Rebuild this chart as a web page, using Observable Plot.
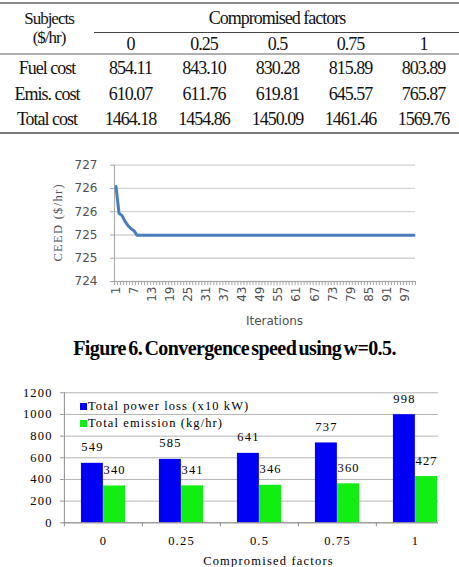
<!DOCTYPE html>
<html>
<head>
<meta charset="utf-8">
<script src="https://cdn.jsdelivr.net/npm/d3@7"></script>
<script src="https://cdn.jsdelivr.net/npm/@observablehq/plot@0.6"></script>
<style>
html, body { margin: 0; padding: 0; background: #fff; }
#page { position: relative; width: 459px; height: 567px; overflow: hidden; background: #fff; }
#table { position: absolute; left: 0; top: 0; width: 459px; height: 140px; font-family: "Liberation Serif", "DejaVu Serif", serif; font-size: 18px; letter-spacing: -1px; color: #111; }
.cell { position: absolute; text-align: center; white-space: nowrap; line-height: 18px; }
.hline { position: absolute; }
#line { position: absolute; left: 0; top: 150px; width: 459px; height: 180px; }
#line svg > g:last-of-type text { letter-spacing: 1.3px; }
#caption { position: absolute; left: 5px; top: 338px; width: 459px; text-align: center; font-family: "Liberation Serif", "DejaVu Serif", serif; font-weight: bold; font-size: 20px; line-height: 20px; letter-spacing: -0.6px; word-spacing: -2px; color: #000; white-space: nowrap; }
#bar { position: absolute; left: 0; top: 380px; width: 438px; height: 187px; overflow: hidden; }
#bar svg text { letter-spacing: 1.2px; }
.leg { position: absolute; left: 80px; height: 16px; line-height: 16px; font-family: "Liberation Serif", "DejaVu Serif", serif; font-size: 12.5px; letter-spacing: 1.1px; color: #000; white-space: nowrap; }
.sw { display: inline-block; width: 7px; height: 7px; margin-right: 1px; vertical-align: 0px; }
</style>
</head>
<body>
<div id="page">
  <div id="table"></div>
  <div id="line"></div>
  <div id="caption"></div>
  <div id="bar"></div>
</div>
<script>
// ---------- DATA ----------
const subjectsHeader = ["Subjects", "($/hr)"];
const groupHeader = "Compromised factors";
const factors = ["0", "0.25", "0.5", "0.75", "1"];
const rowLabels = ["Fuel cost", "Emis. cost", "Total cost"];
const fuelCost = [854.11, 843.10, 830.28, 815.89, 803.89];
const emisCost = [610.07, 611.76, 619.81, 645.57, 765.87];
const totalCost = [1464.18, 1454.86, 1450.09, 1461.46, 1569.76];

const iterations = d3.range(1, 101);
const ceed = [
  726.45, 725.76, 725.70, 725.55, 725.44, 725.36, 725.31, 725.19, 725.19, 725.19,
  725.19, 725.19, 725.19, 725.19, 725.19, 725.19, 725.19, 725.19, 725.19, 725.19,
  725.19, 725.19, 725.19, 725.19, 725.19, 725.19, 725.19, 725.19, 725.19, 725.19,
  725.19, 725.19, 725.19, 725.19, 725.19, 725.19, 725.19, 725.19, 725.19, 725.19,
  725.19, 725.19, 725.19, 725.19, 725.19, 725.19, 725.19, 725.19, 725.19, 725.19,
  725.19, 725.19, 725.19, 725.19, 725.19, 725.19, 725.19, 725.19, 725.19, 725.19,
  725.19, 725.19, 725.19, 725.19, 725.19, 725.19, 725.19, 725.19, 725.19, 725.19,
  725.19, 725.19, 725.19, 725.19, 725.19, 725.19, 725.19, 725.19, 725.19, 725.19,
  725.19, 725.19, 725.19, 725.19, 725.19, 725.19, 725.19, 725.19, 725.19, 725.19,
  725.19, 725.19, 725.19, 725.19, 725.19, 725.19, 725.19, 725.19, 725.19, 725.19
];
const ceedTicks = [724, 724.6, 725.2, 725.8, 726.4, 727];
const ceedTickLabels = ["724", "725", "725", "726", "726", "727"];
const iterLabelTicks = [1, 7, 13, 19, 25, 31, 37, 43, 49, 55, 61, 67, 73, 79, 85, 91, 97];
const lineYLabel = "CEED ($/hr)";
const lineXLabel = "Iterations";
const captionText = "Figure 6. Convergence speed using w=0.5.";

const seriesNames = ["Total power loss (x10 kW)", "Total emission (kg/hr)"];
const powerLoss = [549, 585, 641, 737, 998];
const emission = [340, 341, 346, 360, 427];
const barTicks = [0, 200, 400, 600, 800, 1000, 1200];
const barXLabel = "Compromised factors";

// ---------- STYLE ----------
const seriesColors = ["#0000f5", "#11ee11"];
const lineColor = "#4a7ebb";

// ---------- TABLE ----------
const table = document.getElementById("table");
const colX = [0, 94, 167, 241, 314, 387, 460];
function cell(text, x0, x1, cy, lh, fs) {
  const h = lh || 18;
  const d = document.createElement("div");
  d.className = "cell";
  d.style.left = x0 + "px";
  d.style.width = (x1 - x0) + "px";
  d.style.top = (cy - h / 2) + "px";
  d.style.lineHeight = h + "px";
  if (fs) d.style.fontSize = fs + "px";
  d.textContent = text;
  table.appendChild(d);
  return d;
}
function hline(x0, x1, y, h, color) {
  const d = document.createElement("div");
  d.className = "hline";
  d.style.left = x0 + "px"; d.style.width = (x1 - x0) + "px";
  d.style.top = y + "px"; d.style.height = h + "px";
  d.style.background = color;
  table.appendChild(d);
}
hline(0, 459, 2, 2, "#8a8a8a");
hline(colX[1], 459, 32, 1, "#444");
hline(0, 459, 53, 2, "#b0b0b0");
hline(0, 459, 132, 2, "#7a7a7a");
cell(subjectsHeader[0], colX[0] + 2, colX[1] + 2, 19, 16, 17);
cell(subjectsHeader[1], colX[0] + 2, colX[1] + 2, 37.8, 16, 17);
cell(groupHeader, colX[1], colX[6], 17.5);
factors.forEach((f, i) => cell(f, colX[i + 1], colX[i + 2], 43.7));
const rows = [fuelCost, emisCost, totalCost];
const rowCenters = [67.8, 94, 118.8];
rows.forEach((vals, r) => {
  cell(rowLabels[r], colX[0], colX[1], rowCenters[r]);
  vals.forEach((v, i) => cell(v.toFixed(2), colX[i + 1], colX[i + 2], rowCenters[r]));
});

// ---------- LINE CHART ----------
const lineData = iterations.map((it, i) => ({it, v: ceed[i]}));
const boundaries = [iterations[0] - 0.5, ...iterations.map(d => d + 0.5)];
const axisGray = "#a6a6a6";
const lineChart = Plot.plot({
  width: 459, height: 180,
  marginLeft: 114, marginRight: 44, marginTop: 14.7, marginBottom: 49,
  style: {fontFamily: '"DejaVu Sans", sans-serif', fontSize: "12px", color: "#505050", background: "white"},
  x: {domain: [boundaries[0], boundaries[boundaries.length - 1]]},
  y: {domain: [ceedTicks[0], ceedTicks[ceedTicks.length - 1]]},
  marks: [
    Plot.gridY(ceedTicks, {stroke: "#d2d2d2", strokeOpacity: 1, strokeWidth: 1.3}),
    Plot.ruleX(boundaries, {x: d => d, y1: ceedTicks[0], y2: ceedTicks[0], insetBottom: -4, stroke: axisGray}),
    Plot.ruleX([boundaries[0]], {stroke: axisGray}),
    Plot.ruleY([ceedTicks[0]], {stroke: axisGray}),
    Plot.axisY({ticks: ceedTicks, tickFormat: d => ceedTickLabels[ceedTicks.indexOf(d)], tickSize: 4, tickPadding: 13, label: null, stroke: axisGray}),
    Plot.axisX({ticks: iterLabelTicks, tickFormat: d => String(d), tickSize: 0, tickPadding: 5, tickRotate: -90, label: null}),
    Plot.line(lineData, {x: "it", y: "v", stroke: lineColor, strokeWidth: 3}),
    Plot.text([lineXLabel], {frameAnchor: "bottom", lineAnchor: "middle", dy: 40, dx: 9.5}),
    Plot.text([lineYLabel], {frameAnchor: "left", textAnchor: "middle", lineAnchor: "middle", rotate: -90, dx: -57, dy: -1, fontFamily: '"Liberation Serif", serif', fontSize: 12.5})
  ]
});
document.getElementById("line").appendChild(lineChart);

// ---------- CAPTION ----------
document.getElementById("caption").textContent = captionText;

// ---------- BAR CHART ----------
const xRange = [63.2, 454.5];
const band = (xRange[1] - xRange[0]) / factors.length;
const half = band / 2;
const barW = 22.2;
const powerData = factors.map((f, i) => ({f, v: powerLoss[i]}));
const emisData = factors.map((f, i) => ({f, v: emission[i]}));
const barGray = "#8c8c8c";
const barChart = Plot.plot({
  width: 438, height: 187,
  marginLeft: 63.2, marginRight: 0, marginTop: 12.3, marginBottom: 44.7,
  style: {fontFamily: '"Liberation Serif", serif', fontSize: "12.5px", color: "#000", background: "white"},
  x: {domain: factors, range: xRange, padding: 0},
  y: {domain: [barTicks[0], barTicks[barTicks.length - 1]]},
  marks: [
    Plot.gridY(barTicks, {stroke: "#b4b4b4", strokeOpacity: 1}),
    Plot.axisY({ticks: barTicks, tickFormat: d => String(d), tickSize: 3, tickPadding: 8, label: null, stroke: barGray}),
    Plot.barY(powerData, {x: "f", y: "v", fill: seriesColors[0], insetLeft: half - barW, insetRight: half}),
    Plot.barY(emisData, {x: "f", y: "v", fill: seriesColors[1], insetLeft: half, insetRight: half - barW}),
    Plot.text(powerData, {x: "f", y: "v", text: d => String(d.v), dx: -barW / 2, dy: -16, lineAnchor: "middle"}),
    Plot.text(emisData, {x: "f", y: "v", text: d => String(d.v), dx: barW / 2, dy: -16, lineAnchor: "middle"}),
    Plot.ruleX(factors, {x: d => d, dx: -half, y1: barTicks[0], y2: barTicks[0], insetBottom: -4, stroke: barGray}),
    Plot.ruleX([factors[0]], {dx: -half, stroke: barGray}),
    Plot.ruleY([barTicks[0]], {stroke: barGray}),
    Plot.axisX({tickSize: 0, tickPadding: 13, label: null}),
    Plot.text([barXLabel], {frameAnchor: "bottom", lineAnchor: "middle", dy: 37.7, dx: 17.4})
  ]
});
const barDiv = document.getElementById("bar");
barDiv.appendChild(barChart);

// legend
const legendCenters = [25.5, 43];
seriesNames.forEach((name, i) => {
  const row = document.createElement("div");
  row.className = "leg";
  row.style.top = (legendCenters[i] - 8) + "px";
  const sw = document.createElement("span");
  sw.className = "sw";
  sw.style.background = seriesColors[i];
  row.appendChild(sw);
  row.appendChild(document.createTextNode(name));
  barDiv.appendChild(row);
});
</script>
</body>
</html>
